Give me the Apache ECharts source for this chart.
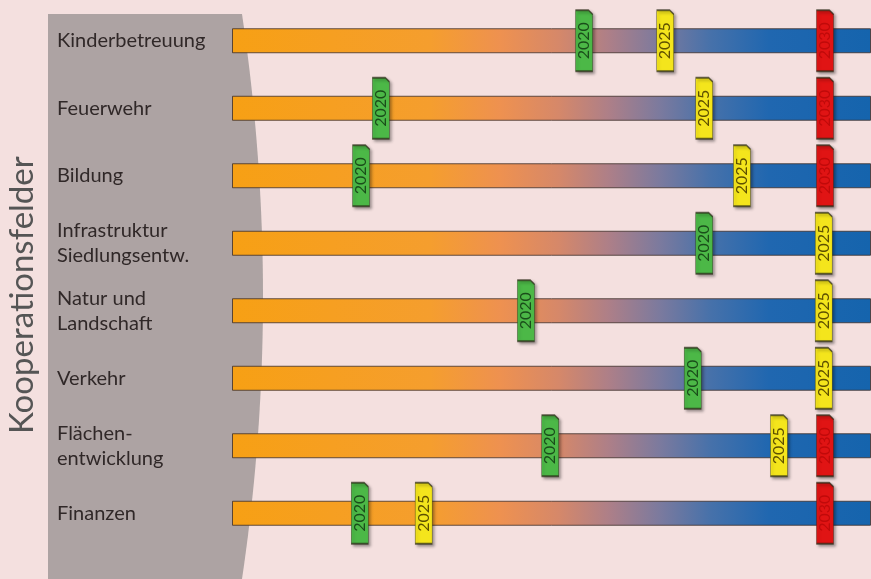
<!DOCTYPE html>
<html>
<head>
<meta charset="utf-8">
<script src="https://cdn.jsdelivr.net/npm/echarts@6/dist/echarts.min.js"></script>
<style>
  html, body { margin: 0; padding: 0; background: #f4e0df; }
  #chart { width: 871px; height: 579px; }
</style>
</head>
<body>
<div id="chart"></div>
<script>
const categories = [
  'Kinderbetreuung',
  'Feuerwehr',
  'Bildung',
  'Infrastruktur\nSiedlungsentw.',
  'Natur und\nLandschaft',
  'Verkehr',
  'Flächen-\nentwicklung',
  'Finanzen'
];
// full-length track for every field (0..100 progress scale)
const track = [100, 100, 100, 100, 100, 100, 100, 100];
// marker positions on the progress scale, null = no marker
const pos2020 = [55.1, 23.3, 20.2, 73.9, 46.0, 72.1, 49.8, 20.0];
const pos2025 = [67.8, 73.9, 79.8, 92.6, 92.6, 92.6, 85.6, 30.0];
const pos2030 = [92.8, 92.8, 92.8, null, null, null, 92.8, 92.8];

const chart = echarts.init(document.getElementById('chart'));

const tagPath = 'path://M0,0 L13,0 L17,4 L17,61 L0,61 Z';

function tagSeries(name, positions, fill, textColor, z) {
  return {
    name: name,
    type: 'scatter',
    z: z,
    symbol: tagPath,
    symbolSize: [17, 61],
    data: positions
      .map((v, i) => (v == null ? null : [v, categories[i]]))
      .filter(d => d),
    itemStyle: {
      color: fill,
      borderColor: 'rgba(40,40,20,0.7)',
      borderWidth: 1,
      shadowBlur: 3,
      shadowOffsetX: 2,
      shadowOffsetY: 2,
      shadowColor: 'rgba(0,0,0,0.35)',
      opacity: 1
    },
    label: {
      show: true,
      formatter: name,
      position: 'inside',
      rotate: 90,
      color: textColor,
      fontFamily: 'Lato',
      fontSize: 16
    },
    emphasis: { disabled: true }
  };
}

const barGradient = {
  type: 'linear', x: 0, y: 0, x2: 1, y2: 0,
  colorStops: [
    { offset: 0, color: '#f7a014' },
    { offset: 0.31, color: '#f59e2e' },
    { offset: 0.42, color: '#ee9150' },
    { offset: 0.51, color: '#d68869' },
    { offset: 0.59, color: '#ad7f88' },
    { offset: 0.67, color: '#7b7a9e' },
    { offset: 0.75, color: '#4671aa' },
    { offset: 0.84, color: '#2067b0' },
    { offset: 1, color: '#1564ad' }
  ]
};

// grey side panel with a curved right edge (quadratic bezier, decoration only)
const panelPts = [[48, 14]];
for (let i = 0; i <= 40; i++) {
  const t = i / 40;
  const x = (1 - t) * (1 - t) * 242 + 2 * t * (1 - t) * 284 + t * t * 242;
  const y = 14 + t * (579 - 14);
  panelPts.push([x, y]);
}
panelPts.push([48, 579]);

chart.setOption({
  backgroundColor: '#f4e0df',
  animation: false,
  graphic: [
    {
      type: 'polygon',
      z: -10,
      shape: { points: panelPts },
      style: { fill: '#ada3a3' }
    },
    {
      type: 'text',
      x: 6,
      y: 434,
      rotation: Math.PI / 2,
      style: {
        text: 'Kooperationsfelder',
        fill: '#555555',
        font: '33px Lato'
      }
    }
  ],
  grid: { left: 232, right: 0, top: 7, bottom: 32 },
  xAxis: {
    type: 'value',
    min: 0,
    max: 100,
    show: false
  },
  yAxis: {
    type: 'category',
    data: categories,
    inverse: true,
    axisLine: { show: false },
    axisTick: { show: false },
    axisLabel: {
      align: 'left',
      margin: 175,
      color: '#302828',
      fontFamily: 'Lato',
      fontSize: 20,
      lineHeight: 25
    }
  },
  series: [
    {
      type: 'bar',
      data: track,
      barWidth: 25,
      z: 1,
      itemStyle: {
        borderColor: 'rgba(60,45,40,0.8)',
        borderWidth: 1,
        color: barGradient
      },
      emphasis: { disabled: true }
    },
    tagSeries('2020', pos2020, '#4cb847', '#1a4d1a', 5),
    tagSeries('2030', pos2030, '#e01414', '#c00a0a', 4),
    tagSeries('2025', pos2025, '#f4e51c', '#5e5000', 6)
  ]
});
</script>
</body>
</html>
